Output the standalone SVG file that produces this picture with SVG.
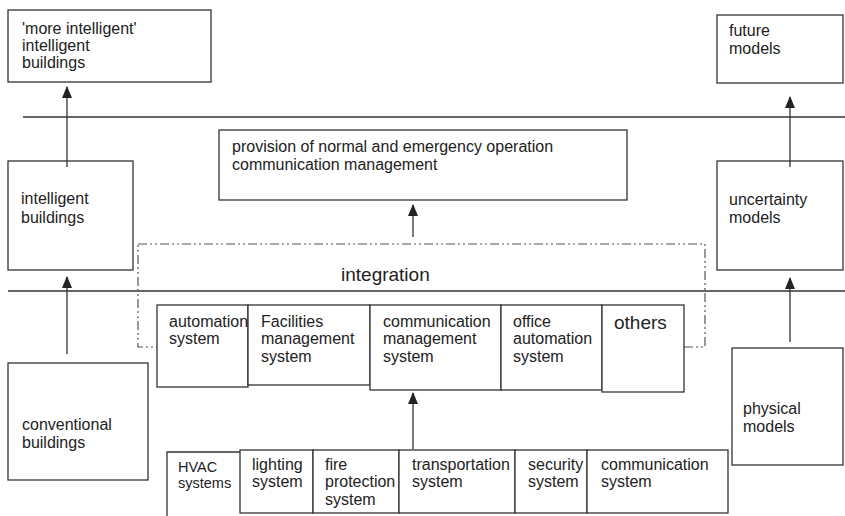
<svg xmlns="http://www.w3.org/2000/svg" width="845" height="516" viewBox="0 0 845 516">
<defs>
<marker id="ah" markerWidth="12" markerHeight="10" refX="11" refY="5" orient="auto" markerUnits="userSpaceOnUse" viewBox="0 0 12 10">
<path d="M0,0 L12,5 L0,10 Z" fill="#222"/>
</marker>
</defs>
<style>
.box{fill:#fff;stroke:#333;stroke-width:1.3}
.ln{stroke:#333;stroke-width:1.3;fill:none}
.t{font-family:"Liberation Sans",Arial,sans-serif;font-size:16px;fill:#222}
.tb{font-family:"Liberation Sans",Arial,sans-serif;font-size:19px;fill:#222}
.ts{font-family:"Liberation Sans",Arial,sans-serif;font-size:14.5px;fill:#222}
.dd{fill:none;stroke:#555;stroke-width:1.2;stroke-dasharray:9 3 2 3 2 3}
</style>
<rect width="845" height="516" fill="#fff"/>
<g id="levels">
<line class="ln" x1="23" y1="117" x2="845" y2="117"/>
<line class="ln" x1="8" y1="291" x2="845" y2="291"/>
</g>
<g id="integration">
<rect class="dd" x="138" y="244" width="567" height="103"/>
<text class="tb" x="341" y="281">integration</text>
</g>
<g id="connectors">
<line class="ln" x1="67" y1="167" x2="67" y2="87" marker-end="url(#ah)"/>
<line class="ln" x1="67" y1="354" x2="67" y2="277" marker-end="url(#ah)"/>
<line class="ln" x1="413" y1="237" x2="413" y2="205" marker-end="url(#ah)"/>
<line class="ln" x1="413" y1="449" x2="413" y2="393" marker-end="url(#ah)"/>
<line class="ln" x1="790" y1="167" x2="790" y2="97" marker-end="url(#ah)"/>
<line class="ln" x1="790" y1="342" x2="790" y2="278" marker-end="url(#ah)"/>
</g>
<g id="more-intelligent">
<rect class="box" x="8" y="10" width="203" height="72"/>
<text class="t" x="22" y="34">'more intelligent'</text>
<text class="t" x="22" y="51">intelligent</text>
<text class="t" x="22" y="68">buildings</text>
</g>
<g id="intelligent">
<rect class="box" x="8" y="161" width="125" height="109" style="fill:none"/>
<text class="t" x="21" y="204">intelligent</text>
<text class="t" x="21" y="223">buildings</text>
</g>
<g id="conventional">
<rect class="box" x="8" y="363" width="140" height="117"/>
<text class="t" x="22" y="430">conventional</text>
<text class="t" x="22" y="448">buildings</text>
</g>
<g id="provision">
<rect class="box" x="219" y="130" width="408" height="70"/>
<text class="t" x="232" y="152">provision of normal and emergency operation</text>
<text class="t" x="232" y="170">communication management</text>
</g>
<g id="future">
<rect class="box" x="717" y="15" width="126" height="68"/>
<text class="t" x="729" y="36">future</text>
<text class="t" x="729" y="54">models</text>
</g>
<g id="uncertainty">
<rect class="box" x="717" y="161" width="126" height="109" style="fill:none"/>
<text class="t" x="729" y="205">uncertainty</text>
<text class="t" x="729" y="223">models</text>
</g>
<g id="physical">
<rect class="box" x="732" y="348" width="111" height="117"/>
<text class="t" x="743" y="414">physical</text>
<text class="t" x="743" y="432">models</text>
</g>
<g id="automation">
<rect class="box" x="157" y="305" width="91" height="82"/>
<text class="t" x="169" y="327">automation</text>
<text class="t" x="169" y="344">system</text>
</g>
<g id="facilities">
<rect class="box" x="248" y="305" width="122" height="80"/>
<text class="t" x="261" y="327">Facilities</text>
<text class="t" x="261" y="344">management</text>
<text class="t" x="261" y="362">system</text>
</g>
<g id="comm-mgmt">
<rect class="box" x="370" y="305" width="131" height="85"/>
<text class="t" x="383" y="327">communication</text>
<text class="t" x="383" y="344">management</text>
<text class="t" x="383" y="362">system</text>
</g>
<g id="office">
<rect class="box" x="501" y="305" width="101" height="85"/>
<text class="t" x="513" y="327">office</text>
<text class="t" x="513" y="344">automation</text>
<text class="t" x="513" y="362">system</text>
</g>
<g id="others">
<rect class="box" x="602" y="305" width="82" height="87"/>
<text class="tb" x="614" y="329">others</text>
</g>
<g id="hvac">
<path class="ln" d="M167,520 V452 H240"/>
<text class="ts" x="178" y="472">HVAC</text>
<text class="ts" x="178" y="488">systems</text>
</g>
<g id="lighting">
<rect class="box" x="240" y="450" width="73" height="63"/>
<text class="t" x="252" y="470">lighting</text>
<text class="t" x="252" y="487">system</text>
</g>
<g id="fire">
<rect class="box" x="313" y="450" width="86" height="63"/>
<text class="t" x="325" y="470">fire</text>
<text class="t" x="325" y="487">protection</text>
<text class="t" x="325" y="505">system</text>
</g>
<g id="transportation">
<rect class="box" x="399" y="450" width="116" height="63"/>
<text class="t" x="412" y="470">transportation</text>
<text class="t" x="412" y="487">system</text>
</g>
<g id="security">
<rect class="box" x="515" y="450" width="72" height="63"/>
<text class="t" x="528" y="470">security</text>
<text class="t" x="528" y="487">system</text>
</g>
<g id="comm-system">
<rect class="box" x="587" y="450" width="141" height="63"/>
<text class="t" x="601" y="470">communication</text>
<text class="t" x="601" y="487">system</text>
</g>
</svg>
